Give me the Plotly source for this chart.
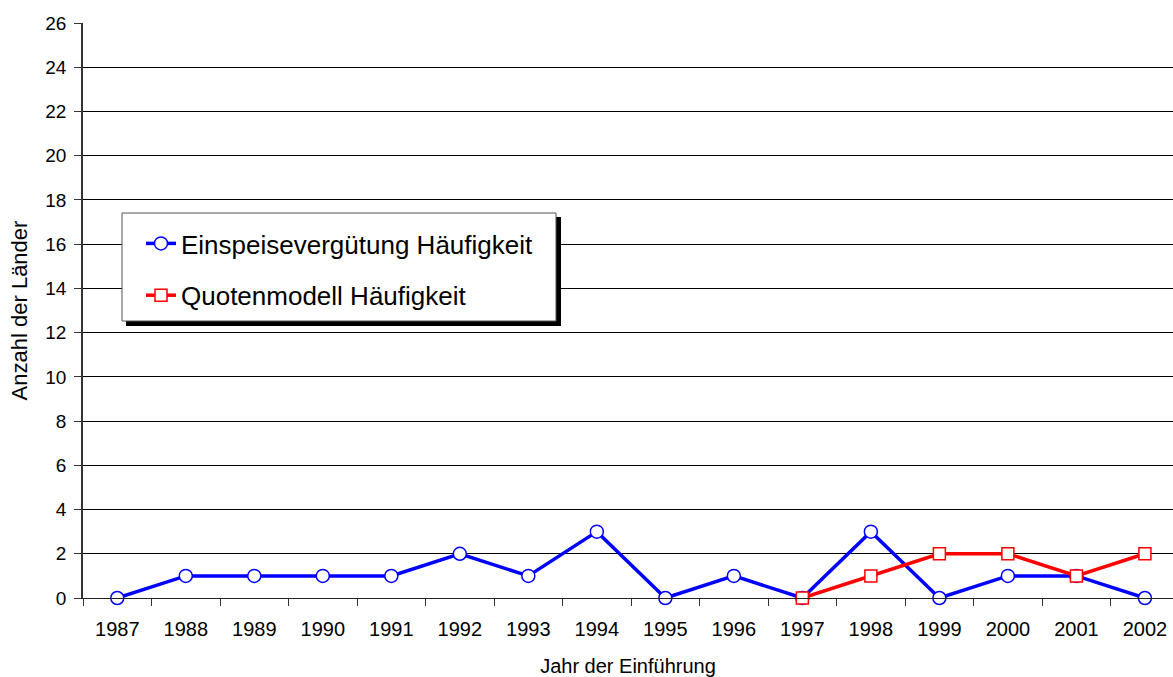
import plotly.graph_objects as go

years = ["1987", "1988", "1989", "1990", "1991", "1992", "1993", "1994",
         "1995", "1996", "1997", "1998", "1999", "2000", "2001", "2002"]
einspeise = [0, 1, 1, 1, 1, 2, 1, 3, 0, 1, 0, 3, 0, 1, 1, 0]
quoten_years = ["1997", "1998", "1999", "2000", "2001", "2002"]
quoten = [0, 1, 2, 2, 1, 2]

W, H = 1173, 677
ML, MR, MT, MB = 83, 0, 23, 79
PW, PH = W - ML - MR, H - MT - MB

FONT = "Liberation Sans, Arial, sans-serif"

fig = go.Figure()
fig.add_trace(go.Scatter(
    x=years, y=einspeise, mode="lines+markers", name="Einspeisevergütung Häufigkeit",
    line=dict(color="#0000FF", width=3.5),
    marker=dict(symbol="circle", size=13, color="white", line=dict(color="#0000FF", width=1.5)),
    legendgroup="a", cliponaxis=False))
fig.add_trace(go.Scatter(
    x=quoten_years, y=quoten, mode="lines+markers", name="Quotenmodell Häufigkeit",
    line=dict(color="#FF0000", width=3.5),
    marker=dict(symbol="square", size=12, color="white", line=dict(color="#FF0000", width=1.5)),
    legendgroup="b", cliponaxis=False))

# window pixel -> paper coords
def px_x(p):
    return (p - ML) / PW

def px_y(p):
    return (H - MB - p) / PH

# legend shadow and box
fig.add_shape(type="rect", xref="paper", yref="paper",
              x0=px_x(126), x1=px_x(561), y0=px_y(326), y1=px_y(217),
              fillcolor="black", line=dict(width=0), layer="above")
fig.add_shape(type="rect", xref="paper", yref="paper",
              x0=px_x(122), x1=px_x(556), y0=px_y(321), y1=px_y(213),
              fillcolor="white", line=dict(width=1, color="#555555"), layer="above")

fig.update_layout(
    width=W, height=H,
    margin=dict(l=ML, r=MR, t=MT, b=MB, pad=0, autoexpand=False),
    paper_bgcolor="white", plot_bgcolor="white",
    font=dict(family=FONT, color="black"),
    showlegend=True,
    legend=dict(x=px_x(141), y=px_y(220), xanchor="left", yanchor="top",
                bgcolor="rgba(0,0,0,0)", borderwidth=0,
                font=dict(size=26, family=FONT), tracegroupgap=15,
                traceorder="grouped", itemwidth=30),
    xaxis=dict(type="category", range=[-0.5, 15.41], tickson="boundaries",
               ticks="outside", ticklen=7, tickcolor="#333333",
               showgrid=False, showline=True, linecolor="#222222", linewidth=1,
               tickfont=dict(size=20), zeroline=False, automargin=False,
               ticklabelstandoff=13,
               title=dict(text="Jahr der Einführung", font=dict(size=20), standoff=19)),
    yaxis=dict(range=[0, 26], dtick=2, ticks="outside", ticklen=7, tickcolor="#333333",
               showgrid=True, gridcolor="black", gridwidth=1,
               showline=True, linecolor="#333333", linewidth=1.5,
               tickfont=dict(size=19), zeroline=False, automargin=False,
               ticklabelstandoff=4,
               title=dict(text="Anzahl der Länder", font=dict(size=22), standoff=12)),
)

fig.write_html(
    "out.html",
    config={"displayModeBar": False},
    post_script="document.body.style.margin='0';document.body.style.overflow='hidden';",
)
